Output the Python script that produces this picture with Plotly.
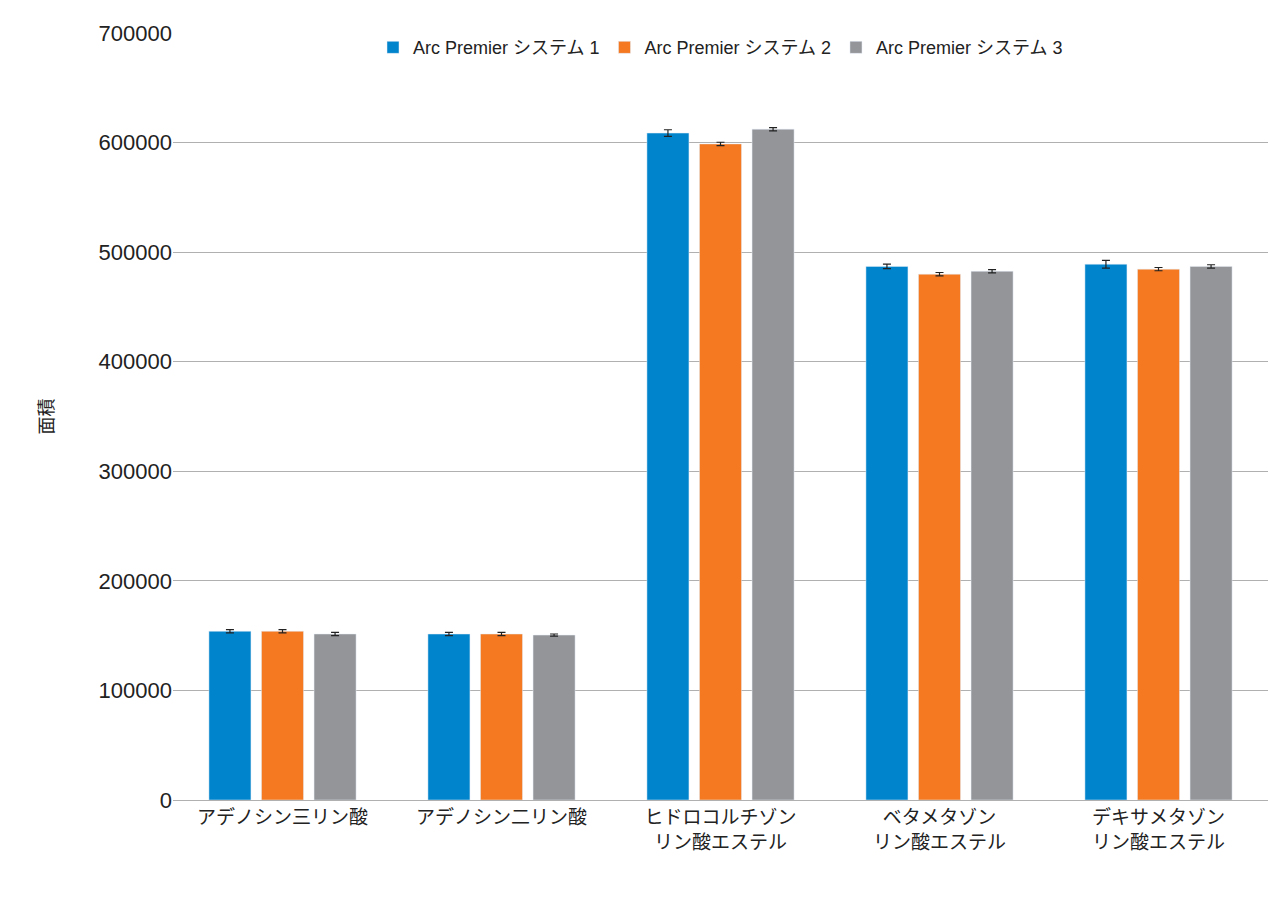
import plotly.graph_objects as go

categories = ["アデノシン三リン酸", "アデノシン二リン酸", "ヒドロコルチゾン<br>リン酸エステル", "ベタメタゾン<br>リン酸エステル", "デキサメタゾン<br>リン酸エステル"]
series_names = ["Arc Premier システム 1", "Arc Premier システム 2", "Arc Premier システム 3"]
sys1 = [154000, 151500, 608700, 487000, 489000]
sys2 = [154000, 151500, 598800, 479900, 484500]
sys3 = [151500, 150500, 612200, 482500, 487000]
err1 = [1500, 1500, 3000, 2000, 3500]
err2 = [1500, 1500, 1500, 1500, 1500]
err3 = [1500, 1000, 1500, 1500, 1500]
colors = ["#0084cc", "#f47920", "#939598"]

fig = go.Figure()
for name, vals, errs, c in zip(series_names, [sys1, sys2, sys3], [err1, err2, err3], colors):
    fig.add_trace(go.Bar(x=categories, y=vals, name=name, marker_color=c,
                         error_y=dict(type="data", array=errs, color="#222", thickness=1.2, width=4)))

fig.update_layout(
    width=1280, height=910, barmode="group", bargap=0.28, bargroupgap=0.2,
    paper_bgcolor="white", plot_bgcolor="white",
    margin=dict(l=165, r=20, t=25, b=118),
    font=dict(family="Liberation Sans, Noto Sans CJK JP", color="#222", size=18),
    legend=dict(orientation="h", x=0.5, xanchor="center", y=1.005, yanchor="top",
                font=dict(size=18), bgcolor="rgba(255,255,255,0)"),
    yaxis=dict(range=[0, 700000], dtick=100000, gridcolor="#b0b0b0", tickfont=dict(size=22),
               tickformat="d", title=dict(text="面積", font=dict(size=18), standoff=40),
               showline=False, zeroline=False),
    xaxis=dict(showline=True, linecolor="#b0b0b0", tickfont=dict(size=19)),
)
fig.write_html("out.html")
